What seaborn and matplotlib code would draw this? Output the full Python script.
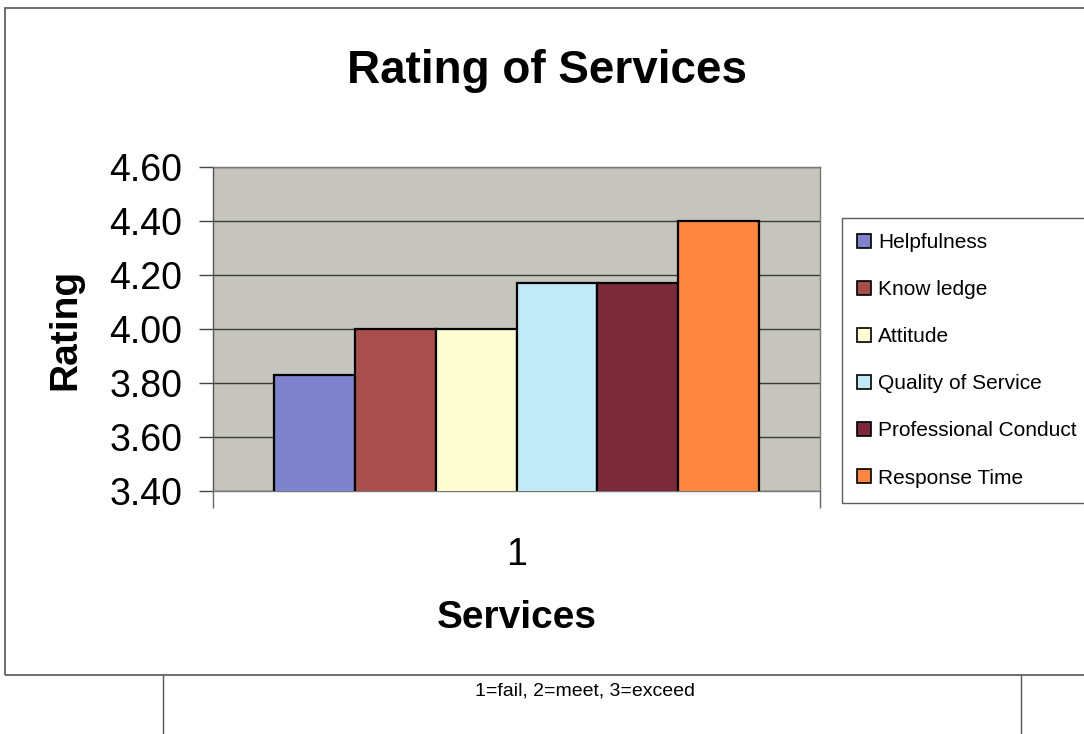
import matplotlib
matplotlib.use("Agg")
import matplotlib.pyplot as plt
import matplotlib.patches as mpatches
import matplotlib.lines as mlines
import seaborn as sns
import pandas as pd

categories = ["Helpfulness", "Know ledge", "Attitude", "Quality of Service",
              "Professional Conduct", "Response Time"]
ratings = [3.83, 4.00, 4.00, 4.17, 4.17, 4.40]
service = ["1"] * 6
colors = ["#7f82cc", "#a84f4e", "#fdfdd2", "#c2e9f6", "#7c2a3a", "#fd8740"]
yticks = [3.40, 3.60, 3.80, 4.00, 4.20, 4.40, 4.60]

sns.set_theme(style="white")
plt.rcParams["font.family"] = ["Liberation Sans", "DejaVu Sans"]
plt.rcParams["text.color"] = "black"
plt.rcParams["axes.labelcolor"] = "black"
plt.rcParams["xtick.color"] = "black"
plt.rcParams["ytick.color"] = "black"

df = pd.DataFrame({"service": service, "rating": ratings, "category": categories})

fig = plt.figure(figsize=(10.84, 7.34), dpi=100)
ax = fig.add_axes([213/1084, 1-491/734, (820-213)/1084, (491-167)/734])
ax.set_facecolor("#c5c5be")

sns.barplot(data=df, x="service", y="rating", hue="category", hue_order=categories,
            palette=colors, edgecolor="black", linewidth=1.6, saturation=1,
            ax=ax, width=0.8, zorder=3)

ax.set_ylim(3.40, 4.60)
ax.set_xlim(-0.5, 0.5)
ax.set_yticks(yticks)
ax.set_yticklabels([f"{v:.2f}" for v in yticks], fontsize=27)
ax.yaxis.grid(True, color="#3a3a3a", linewidth=1.0, zorder=1)
ax.set_axisbelow(True)
ax.tick_params(axis="y", direction="out", length=10, width=1, color="#444444", pad=12,
               left=True, labelcolor="black")
ax.tick_params(axis="x", length=0, pad=33, labelsize=27, labelcolor="black")
ax.set_xticks([-0.5, 0.5], minor=True)
ax.tick_params(axis="x", which="minor", direction="out", length=12, width=1, color="#666666", bottom=True)

for side, sp in ax.spines.items():
    sp.set_visible(True)
    sp.set_color("#777777")
    sp.set_linewidth(1.0)
ax.spines["left"].set_color("#555555")

ax.set_ylabel("Rating", fontsize=28, fontweight="bold", color="black")
ax.yaxis.set_label_coords(-0.213, 0.5)
ax.set_xlabel("Services", fontsize=28, fontweight="bold", color="black")
ax.xaxis.set_label_coords(0.5, -0.335)

fig.text(547/1084, 1-71/734, "Rating of Services", fontsize=33, fontweight="bold",
         ha="center", va="center", color="black")

h, l = ax.get_legend_handles_labels()
if ax.get_legend() is not None:
    ax.get_legend().remove()
for hh in h:
    hh.set_edgecolor("black")
    hh.set_linewidth(1.2)
leg = fig.legend(h, l, loc="upper left", bbox_to_anchor=(842/1084, 1-218/734),
                 bbox_transform=fig.transFigure, fontsize=15, frameon=True,
                 fancybox=False, shadow=False, handlelength=0.65, handleheight=0.65,
                 handletextpad=0.35, labelspacing=1.35, borderpad=0.72, borderaxespad=0)
for t in leg.get_texts():
    t.set_color("black")
leg.get_frame().set_edgecolor("#333333")
leg.get_frame().set_linewidth(1.0)

# outer chart border and lower frame
fig.add_artist(mpatches.Rectangle((5/1084, 1-675/734), 1.0, (675-8)/734,
                                  transform=fig.transFigure, fill=False,
                                  edgecolor="#555555", linewidth=1.2))
for xp in (163, 1021):
    fig.add_artist(mlines.Line2D([xp/1084, xp/1084], [0, 1-675/734],
                                 transform=fig.transFigure, color="#555555", linewidth=1.0))
fig.text(585/1084, 1-691/734, "1=fail, 2=meet, 3=exceed", fontsize=14,
         ha="center", va="center", color="black")

fig.savefig("out.png", dpi=100)
